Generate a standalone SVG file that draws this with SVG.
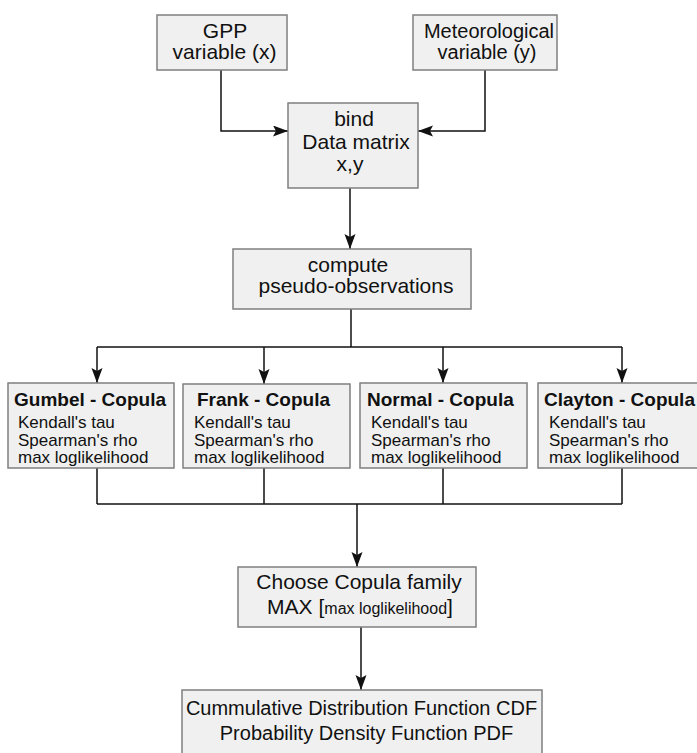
<svg xmlns="http://www.w3.org/2000/svg" width="697" height="753" viewBox="0 0 697 753">
<style>
.box{fill:#f0f0f0;stroke:#7f7f7f;stroke-width:1.5}
.t{font-family:"Liberation Sans",Arial,sans-serif;font-size:21px;fill:#111}
.c{text-anchor:middle}
.h{font-family:"Liberation Sans",Arial,sans-serif;font-size:19px;font-weight:bold;fill:#111}
.s{font-family:"Liberation Sans",Arial,sans-serif;font-size:17px;fill:#111}
.ln{fill:none;stroke:#111;stroke-width:1.5}
</style>
<defs>
<marker id="ah" markerUnits="userSpaceOnUse" markerWidth="16" markerHeight="12" refX="15" refY="5.5" orient="auto">
<path d="M0,0 L15,5.5 L0,11 L3,5.5 z" fill="#111"/>
</marker>
</defs>
<rect width="697" height="753" fill="#fff"/>
<g id="connectors">
<path class="ln" d="M221 70 V131 H288" marker-end="url(#ah)"/>
<path class="ln" d="M485 70 V131 H418" marker-end="url(#ah)"/>
<path class="ln" d="M350 188 V249" marker-end="url(#ah)"/>
<path class="ln" d="M351 309 V347"/>
<path class="ln" d="M97 347 H622"/>
<path class="ln" d="M97 347 V383" marker-end="url(#ah)"/>
<path class="ln" d="M264 347 V384" marker-end="url(#ah)"/>
<path class="ln" d="M443 347 V383" marker-end="url(#ah)"/>
<path class="ln" d="M622 347 V383" marker-end="url(#ah)"/>
<path class="ln" d="M97 468 V504 M264 468 V504 M443 468 V504 M622 468 V504"/>
<path class="ln" d="M97 504 H622"/>
<path class="ln" d="M357 504 V567" marker-end="url(#ah)"/>
<path class="ln" d="M361 627 V690" marker-end="url(#ah)"/>
</g>
<g id="gpp">
<rect class="box" x="157" y="15" width="130" height="55"/>
<text class="t c" x="225" y="38">GPP</text>
<text class="t c" x="224.5" y="59">variable (x)</text>
</g>
<g id="met">
<rect class="box" x="413" y="15" width="144" height="55"/>
<text class="t c" x="489" y="38" style="font-size:20px">Meteorological</text>
<text class="t c" x="487" y="59" style="font-size:20px">variable (y)</text>
</g>
<g id="bind">
<rect class="box" x="288" y="103" width="130" height="85"/>
<text class="t c" x="354" y="126">bind</text>
<text class="t c" x="356" y="149">Data matrix</text>
<text class="t c" x="350" y="171">x,y</text>
</g>
<g id="compute">
<rect class="box" x="233" y="249" width="238" height="60"/>
<text class="t c" x="348" y="272">compute</text>
<text class="t c" x="356" y="293">pseudo-observations</text>
</g>
<g id="gumbel">
<rect class="box" x="8" y="383" width="166" height="85"/>
<text class="h" x="14" y="406">Gumbel - Copula</text>
<text class="s" x="18" y="428">Kendall's tau</text>
<text class="s" x="18" y="446">Spearman's rho</text>
<text class="s" x="18" y="463">max loglikelihood</text>
</g>
<g id="frank">
<rect class="box" x="183" y="384" width="167" height="84"/>
<text class="h" x="197" y="406">Frank - Copula</text>
<text class="s" x="194" y="428">Kendall's tau</text>
<text class="s" x="194" y="446">Spearman's rho</text>
<text class="s" x="194" y="463">max loglikelihood</text>
</g>
<g id="normal">
<rect class="box" x="360" y="383" width="167" height="85"/>
<text class="h" x="367" y="406">Normal - Copula</text>
<text class="s" x="371" y="428">Kendall's tau</text>
<text class="s" x="371" y="446">Spearman's rho</text>
<text class="s" x="371" y="463">max loglikelihood</text>
</g>
<g id="clayton">
<rect class="box" x="538" y="383" width="170" height="85"/>
<text class="h" x="544" y="406">Clayton - Copula</text>
<text class="s" x="549" y="428">Kendall's tau</text>
<text class="s" x="549" y="446">Spearman's rho</text>
<text class="s" x="549" y="463">max loglikelihood</text>
</g>
<g id="choose">
<rect class="box" x="238" y="567" width="238" height="60"/>
<text class="t c" x="359" y="589">Choose Copula family</text>
<text class="t c" x="360" y="614">MAX [<tspan style="font-size:16px">max loglikelihood</tspan>]</text>
</g>
<g id="cdf">
<rect class="box" x="182" y="690" width="360" height="75"/>
<text class="t c" x="361.5" y="715" style="font-size:20px">Cummulative Distribution Function CDF</text>
<text class="t c" x="366.5" y="740" style="font-size:20px">Probability Density Function PDF</text>
</g>
</svg>
